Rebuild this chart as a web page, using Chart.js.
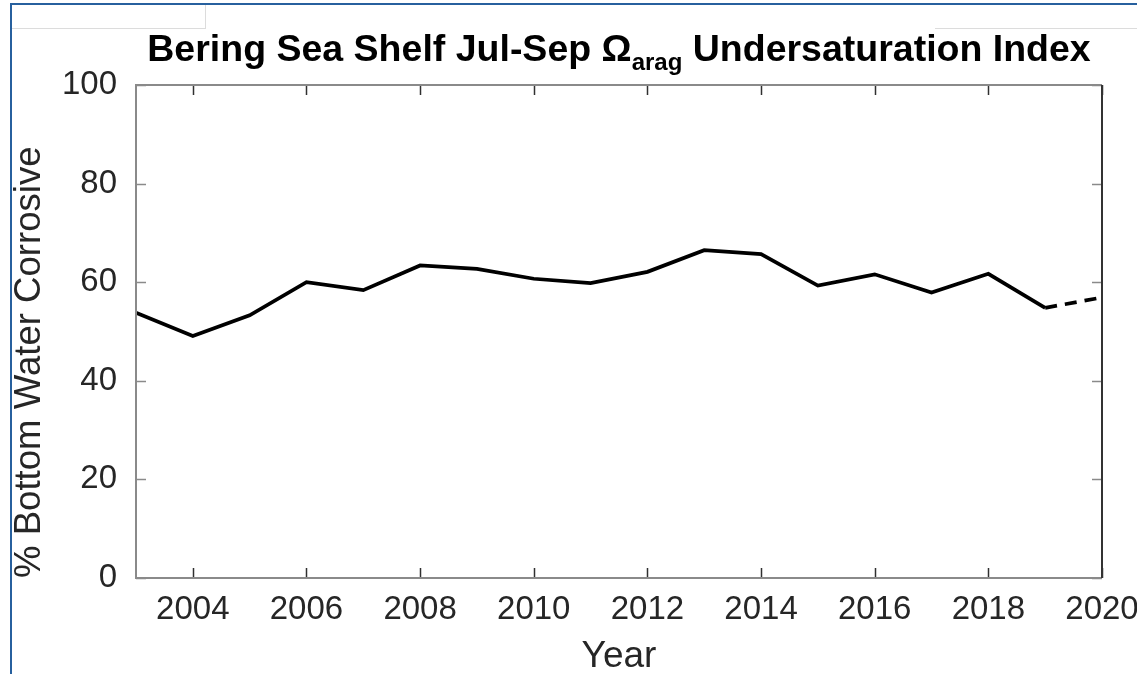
<!DOCTYPE html>
<html>
<head>
<meta charset="utf-8">
<script src="https://cdn.jsdelivr.net/npm/chart.js@4.4.1/dist/chart.umd.min.js"></script>
<style>
  html, body { margin: 0; padding: 0; background: #fff; }
  #wrap { position: relative; width: 1137px; height: 674px; overflow: hidden; }
  #frameTop { position: absolute; left: 10px; top: 3px; width: 1127px; height: 2px; background: #27609e; }
  #frameLeft { position: absolute; left: 10px; top: 3px; width: 2px; height: 671px; background: #27609e; }
  #tabA { position: absolute; left: 12px; top: 28px; width: 193px; height: 1px; background: #dcdcdc; }
  #tabB { position: absolute; left: 205px; top: 5px; width: 1px; height: 24px; background: #dcdcdc; }
  #tabC { position: absolute; left: 935px; top: 28px; width: 202px; height: 1px; background: #dcdcdc; }
  canvas { position: absolute; left: 0; top: 0; }
</style>
</head>
<body>
<div id="wrap">
  <canvas id="lineChart" width="1137" height="674"></canvas>
  <div id="frameTop"></div>
  <div id="frameLeft"></div>
  <div id="tabA"></div>
  <div id="tabB"></div>
  <div id="tabC"></div>
</div>
<script>
// data
var years = [2003, 2004, 2005, 2006, 2007, 2008, 2009, 2010, 2011, 2012, 2013, 2014, 2015, 2016, 2017, 2018, 2019, 2020];
var corrosive = [53.8, 49.1, 53.3, 60.0, 58.4, 63.4, 62.7, 60.7, 59.8, 62.1, 66.5, 65.7, 59.3, 61.6, 57.9, 61.7, 54.8, 56.9];
var xTicks = [2004, 2006, 2008, 2010, 2012, 2014, 2016, 2018, 2020];
var yTicks = [0, 20, 40, 60, 80, 100];

var FONT = '"Liberation Sans", Arial, Helvetica, sans-serif';
var lastIdx = years.length - 1;

// title with subscript, drawn above the axes
var titlePlugin = {
    id: 'subTitle',
    afterDraw: function (chart) {
        var ctx = chart.ctx;
        var area = chart.chartArea;
        var partA = 'Bering Sea Shelf Jul-Sep \u03A9';
        var sub = 'arag';
        var partB = ' Undersaturation Index';
        var big = 'bold 37.5px ' + FONT;
        var small = 'bold 24px ' + FONT;
        ctx.save();
        ctx.fillStyle = '#000';
        ctx.textBaseline = 'alphabetic';
        ctx.textAlign = 'left';
        ctx.font = big;
        var wA = ctx.measureText(partA).width;
        var wB = ctx.measureText(partB).width;
        ctx.font = small;
        var wS = ctx.measureText(sub).width;
        var x = (area.left + area.right) / 2 - (wA + wS + wB) / 2;
        var baseY = 61;
        ctx.font = big;
        ctx.fillText(partA, x, baseY);
        ctx.font = small;
        ctx.fillText(sub, x + wA, baseY + 9);
        ctx.font = big;
        ctx.fillText(partB, x + wA + wS, baseY);
        ctx.restore();
    }
};

// matlab style box with inward ticks on all four sides
var boxPlugin = {
    id: 'boxAxes',
    afterDraw: function (chart) {
        var ctx = chart.ctx;
        var a = chart.chartArea;
        var xs = chart.scales.x;
        var ys = chart.scales.y;
        var len = 10;
        ctx.save();
        ctx.lineWidth = 1.5;
        // x ticks, bottom and top
        ctx.strokeStyle = '#303030';
        xTicks.forEach(function (t) {
            var px = Math.round(xs.getPixelForValue(t)) + 0.5;
            ctx.beginPath();
            ctx.moveTo(px, a.bottom); ctx.lineTo(px, a.bottom - len);
            ctx.moveTo(px, a.top); ctx.lineTo(px, a.top + len);
            ctx.stroke();
        });
        // y ticks, left and right
        ctx.strokeStyle = '#8a8a8a';
        yTicks.forEach(function (t) {
            var py = Math.round(ys.getPixelForValue(t)) + 0.5;
            ctx.beginPath();
            ctx.moveTo(a.left, py); ctx.lineTo(a.left + len, py);
            ctx.moveTo(a.right, py); ctx.lineTo(a.right - len, py);
            ctx.stroke();
        });
        // box
        ctx.lineWidth = 2;
        ctx.strokeStyle = '#8a8a8a';
        ctx.beginPath();
        ctx.moveTo(a.right, a.top); ctx.lineTo(a.left, a.top);
        ctx.lineTo(a.left, a.bottom); ctx.lineTo(a.right, a.bottom);
        ctx.stroke();
        ctx.strokeStyle = '#333';
        ctx.beginPath();
        ctx.moveTo(a.right, a.top); ctx.lineTo(a.right, a.bottom);
        ctx.stroke();
        ctx.restore();
    }
};

var lineCtx = document.getElementById('lineChart').getContext('2d');
var lineChart = new Chart(lineCtx, {
    type: 'line',
    data: {
        datasets: [{
            label: '% Bottom Water Corrosive',
            data: years.map(function (y, i) { return { x: y, y: corrosive[i] }; }),
            borderColor: '#000',
            borderWidth: 3.7,
            pointRadius: 0,
            tension: 0,
            segment: {
                // last year is provisional -> dashed
                borderDash: function (c) { return c.p1DataIndex === lastIdx ? [12, 8] : undefined; }
            }
        }]
    },
    options: {
        responsive: false,
        animation: false,
        devicePixelRatio: 1,
        layout: { padding: { left: 0, right: 35, top: 85, bottom: 0 } },
        plugins: {
            legend: { display: false },
            title: { display: false },
            tooltip: { enabled: false }
        },
        scales: {
            x: {
                type: 'linear',
                min: 2003,
                max: 2020,
                grid: { display: false, drawTicks: false },
                border: { display: false },
                afterBuildTicks: function (s) { s.ticks = xTicks.map(function (v) { return { value: v }; }); },
                afterFit: function (s) { s.height = 96; s.paddingLeft = 0; s.paddingRight = 0; },
                ticks: {
                    autoSkip: false,
                    maxRotation: 0,
                    padding: 12,
                    color: '#262626',
                    font: { family: FONT, size: 33 },
                    callback: function (v) { return String(v); }
                },
                title: {
                    display: true,
                    text: 'Year',
                    color: '#262626',
                    font: { family: FONT, size: 37, lineHeight: 1 },
                    padding: { top: 0, bottom: -1 }
                }
            },
            y: {
                min: 0,
                max: 100,
                grid: { display: false, drawTicks: false },
                border: { display: false },
                afterBuildTicks: function (s) { s.ticks = yTicks.map(function (v) { return { value: v }; }); },
                afterFit: function (s) { s.width = 136; },
                ticks: {
                    padding: 19,
                    color: '#262626',
                    font: { family: FONT, size: 33 }
                },
                title: {
                    display: true,
                    text: '% Bottom Water Corrosive',
                    align: 'start',
                    color: '#262626',
                    font: { family: FONT, size: 36.6, lineHeight: 1 },
                    padding: { top: 12, bottom: 0 }
                }
            }
        }
    },
    plugins: [titlePlugin, boxPlugin]
});
</script>
</body>
</html>
